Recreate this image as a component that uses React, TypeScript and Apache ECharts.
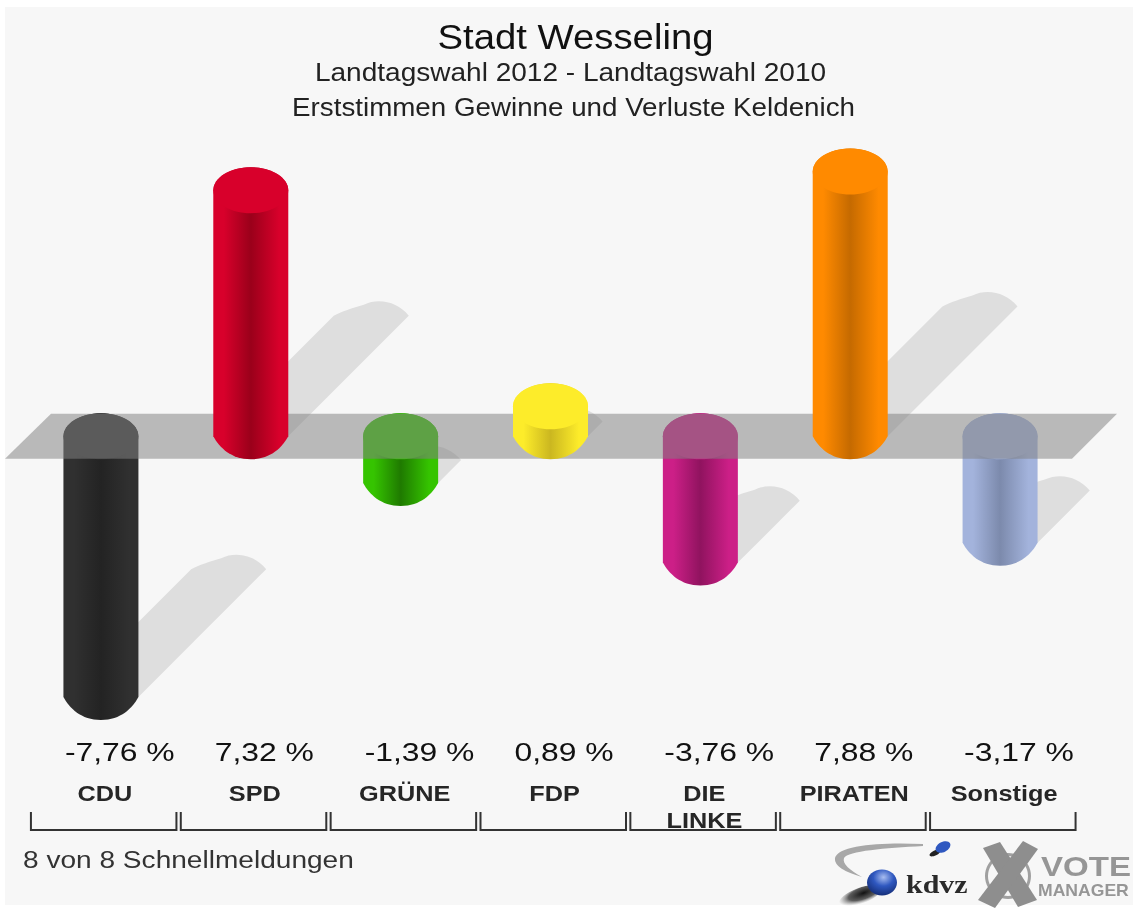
import React, { useEffect, useRef } from "react";
import * as echarts from "echarts";

const categories = ["CDU", "SPD", "GRÜNE", "FDP", "DIE\nLINKE", "PIRATEN", "Sonstige"];
const values = [-7.76, 7.32, -1.39, 0.89, -3.76, 7.88, -3.17];
const edgeColors = ["#303030", "#d8002b", "#35c400", "#fdec2a", "#cc1f87", "#ff8a00", "#a3b3dc"];
const darkColors = ["#232323", "#9a001a", "#1f7a00", "#cbb720", "#90135f", "#c56a00", "#7c8aac"];
const titleText = "Stadt Wesseling";
const subtitleLines = ["Landtagswahl 2012 - Landtagswahl 2010", "Erststimmen Gewinne und Verluste Keldenich"];
const footerText = "8 von 8 Schnellmeldungen";

const FONT = "'Liberation Sans', Arial, sans-serif";
const RX = 37.5;
const RY = 23;
const SHADOW_K = 0.49;

const data = values.map((v, i) => [i, v]);

function txt(text: string, x: number, y: number, size: number, scaleX: number, align: string, fill: string, weight = "normal", family = FONT) {
  return {
    type: "text",
    x,
    y,
    scaleX,
    silent: true,
    style: {
      text,
      fontSize: size,
      fontFamily: family,
      fontWeight: weight,
      fill,
      align,
      verticalAlign: "middle",
      textAlign: align,
      textVerticalAlign: "middle",
    },
  };
}

function bodyGradient(i: number) {
  return {
    type: "linear",
    x: 0,
    y: 0,
    x2: 1,
    y2: 0,
    colorStops: [
      { offset: 0, color: edgeColors[i] },
      { offset: 0.14, color: edgeColors[i] },
      { offset: 0.5, color: darkColors[i] },
      { offset: 0.88, color: edgeColors[i] },
      { offset: 1, color: edgeColors[i] },
    ],
  };
}

function renderShadow(params: any, api: any) {
  const i = api.value(0);
  const v = api.value(1);
  const zero = api.coord([i, 0]);
  const end = api.coord([i, v]);
  const cx = zero[0];
  const base = Math.max(zero[1], end[1]);
  const L = Math.abs(end[1] - zero[1]);
  const d = L * SHADOW_K;
  const lx = cx - RX + d;
  const rx = cx + RX + d;
  const ty = base - d;
  const w = rx - lx;
  const pathData =
    `M${cx + RX} ${base} L${rx} ${ty} ` +
    `C${lx + w * 0.85} ${ty - 14} ${lx + w * 0.6} ${ty - 18} ${lx + w * 0.4} ${ty - 11} ` +
    `C${lx + w * 0.25} ${ty - 8} ${lx + w * 0.1} ${ty - 4} ${lx} ${ty} ` +
    `L${cx - RX} ${base} Z`;
  return {
    type: "path",
    shape: { pathData },
    style: { fill: "#dedede" },
    silent: true,
  };
}

function renderBar(params: any, api: any) {
  const i = api.value(0);
  const v = api.value(1);
  const zero = api.coord([i, 0]);
  const end = api.coord([i, v]);
  const cx = zero[0];
  const top = Math.min(zero[1], end[1]);
  const bottom = Math.max(zero[1], end[1]);
  const pathData =
    `M${cx - RX} ${top} L${cx - RX} ${bottom} ` +
    `C${cx - RX + 6} ${bottom + 11} ${cx - 20} ${bottom + RY} ${cx} ${bottom + RY} ` +
    `C${cx + 20} ${bottom + RY} ${cx + RX - 6} ${bottom + 11} ${cx + RX} ${bottom} ` +
    `L${cx + RX} ${top} ` +
    `A${RX} ${RY} 0 0 0 ${cx - RX} ${top} Z`;
  return {
    type: "group",
    children: [
      { type: "path", shape: { pathData }, style: { fill: bodyGradient(i) }, silent: true },
      {
        type: "ellipse",
        shape: { cx, cy: top, rx: RX, ry: RY },
        style: { fill: edgeColors[i] },
        silent: true,
      },
    ],
  };
}

function renderPlane(params: any, api: any) {
  const zero = api.coord([0, 0]);
  const y = zero[1];
  return {
    type: "polygon",
    shape: {
      points: [
        [51, y - 22.5],
        [1117, y - 22.5],
        [1072, y + 22.5],
        [5, y + 22.5],
      ],
    },
    style: { fill: "rgba(131,131,131,0.53)" },
    silent: true,
  };
}

function renderLabels(params: any, api: any) {
  const i = api.value(0);
  const v = api.value(1);
  const cx = api.coord([i, 0])[0];
  const label = v.toFixed(2).replace(".", ",") + " %";
  const cat = txt(categories[i], cx + 4, 794, 22, 1.15, "center", "#262626", "bold");
  (cat.style as any).lineHeight = 27;
  if (categories[i].indexOf("\n") >= 0) {
    cat.y = 807;
  }
  return {
    type: "group",
    children: [
      txt(label, cx - 36, 752, 26, 1.225, "left", "#111111"),
      cat,
      {
        type: "polyline",
        shape: {
          points: [
            [cx - 70, 812],
            [cx - 70, 830],
            [cx + 75.5, 830],
            [cx + 75.5, 812],
          ],
        },
        style: { stroke: "#333", lineWidth: 2, fill: "none" },
        silent: true,
      },
    ],
  };
}

function logoElements() {
  return [
    {
      type: "swoosh",
      style: { fill: "#a8a8a8" },
      silent: true,
    },
    {
      type: "ellipse",
      x: 860,
      y: 896,
      rotation: 0.35,
      shape: { cx: 0, cy: 0, rx: 22, ry: 8 },
      style: {
        fill: new echarts.graphic.RadialGradient(0.6, 0.4, 0.6, [
          { offset: 0, color: "#111" },
          { offset: 0.6, color: "rgba(40,40,40,0.75)" },
          { offset: 1, color: "rgba(120,120,120,0)" },
        ]),
      },
      silent: true,
    },
    {
      type: "ellipse",
      shape: { cx: 882, cy: 882.5, rx: 15, ry: 13 },
      style: {
        fill: new echarts.graphic.RadialGradient(0.55, 0.3, 0.75, [
          { offset: 0, color: "#a8bdf0" },
          { offset: 0.45, color: "#2f58c0" },
          { offset: 1, color: "#12296f" },
        ]),
      },
      silent: true,
    },
    {
      type: "ellipse",
      x: 935,
      y: 853,
      rotation: 0.45,
      shape: { cx: 0, cy: 0, rx: 6, ry: 2.5 },
      style: { fill: "#222" },
      silent: true,
    },
    {
      type: "ellipse",
      x: 943,
      y: 847,
      rotation: 0.5,
      shape: { cx: 0, cy: 0, rx: 8, ry: 5 },
      style: { fill: "#2f58c0" },
      silent: true,
    },
    txt("kdvz", 906, 884, 25, 1.2, "left", "#2a2a2a", "bold", "'Liberation Serif', serif"),
    {
      type: "ring",
      shape: { cx: 1008, cy: 876, r: 23, r0: 20 },
      style: { fill: "#a0a0a0" },
      silent: true,
    },
    {
      type: "polygon",
      shape: { points: [[983, 848], [1000, 842], [1037, 900], [1018, 907]] },
      style: { fill: "#8e8e8e" },
      silent: true,
    },
    {
      type: "polygon",
      shape: { points: [[1023, 841], [1038, 849], [995, 908], [978, 900]] },
      style: { fill: "#8e8e8e" },
      silent: true,
    },
    txt("VOTE", 1041, 866, 28, 1.18, "left", "#969696", "bold"),
    txt("MANAGER", 1038, 891, 16, 1.1, "left", "#969696", "bold"),
  ];
}

export default function App() {
  const ref = useRef<HTMLDivElement>(null);
  useEffect(() => {
    document.body.style.margin = "0";
    document.body.style.background = "#ffffff";
    echarts.graphic.registerShape(
      "swoosh",
      echarts.graphic.extendPath(
        "M923 844 C882 842 838 845 835 858 C834 866 845 872 862 877 C850 870 842 864 844 858 C848 851 885 848 923 846 Z",
        {}
      )
    );
    const chart = echarts.init(ref.current!, null, { renderer: "svg" });
    const base = { type: "custom", coordinateSystem: "cartesian2d", silent: true, encode: { x: 0, y: 1 } };
    chart.setOption({
      animation: false,
      backgroundColor: "#ffffff",
      tooltip: { show: false },
      grid: { left: 26, top: 117, width: 1049, height: 621.6 },
      xAxis: {
        type: "category",
        show: false,
        data: categories,
      },
      yAxis: { type: "value", show: false, min: -9, max: 9.5 },
      graphic: [
        {
          type: "rect",
          z: -10,
          shape: { x: 5, y: 7, width: 1128, height: 898 },
          style: { fill: "#f7f7f7" },
          silent: true,
        },
        txt(titleText, 575.5, 37, 35, 1.095, "center", "#111"),
        txt(subtitleLines[0], 570.5, 73, 25, 1.122, "center", "#222"),
        txt(subtitleLines[1], 573.5, 107, 25, 1.11, "center", "#222"),
        txt(footerText, 23, 860, 24, 1.17, "left", "#333"),
        ...logoElements(),
      ],
      series: [
        { ...base, z: 2, data, renderItem: renderShadow },
        { ...base, z: 3, data: data.filter((d) => d[1] < 0), renderItem: renderBar },
        { ...base, z: 4, data: [[0, 0]], renderItem: renderPlane },
        { ...base, z: 5, data: data.filter((d) => d[1] >= 0), renderItem: renderBar },
        { ...base, z: 6, data, renderItem: renderLabels },
      ],
    });
    return () => chart.dispose();
  }, []);
  return <div ref={ref} style={{ position: "absolute", left: 0, top: 0, width: 1133, height: 911, filter: "blur(0.6px)" }} />;
}
